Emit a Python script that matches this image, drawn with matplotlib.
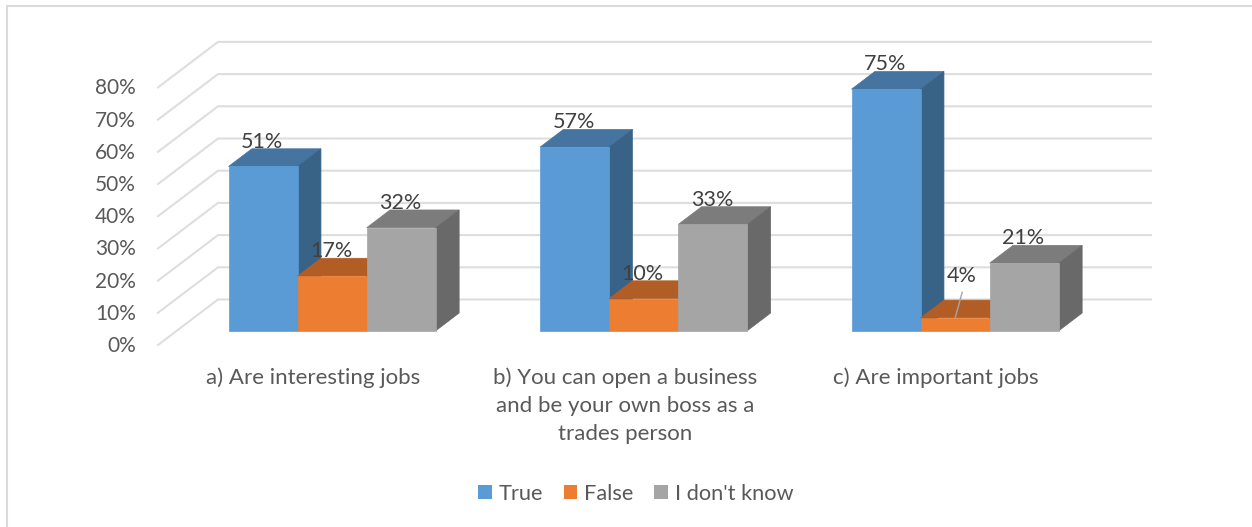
import matplotlib
matplotlib.use('Agg')
import matplotlib.pyplot as plt
from matplotlib.patches import Polygon, Patch

plt.rcParams['font.family'] = ['Lato', 'DejaVu Sans']

categorias = ['a) Are interesting jobs',
              'b) You can open a business\nand be your own boss as a\ntrades person',
              'c) Are important jobs']
series = ['True', 'False', "I don't know"]
valores_true = [51, 57, 75]
valores_false = [17, 10, 4]
valores_idk = [32, 33, 21]
ticks_y = [0, 10, 20, 30, 40, 50, 60, 70, 80]

# colores: frente, tapa, lateral
colores = {'True': ('#5B9BD5', '#4674A0', '#386386'),
           'False': ('#ED7D31', '#B25D25', '#8E4A1E'),
           "I don't know": ('#A5A5A5', '#7C7C7C', '#696969')}

W, H = 1252, 527
PX_X = 311.5       # pixeles entre grupos
PX_Y = 3.22        # pixeles por punto porcentual
X0, Y0 = 332.2, 330.7  # centro del primer grupo y base de las barras

ancho = 69.1 / PX_X
prof_x, prof_y = 23.3 / PX_X, 17.7 / PX_Y

# pared del fondo y esquina delantera de la grilla
pared_x0, pared_x1 = (218 - X0) / PX_X, (1151 - X0) / PX_X
pared_y = (Y0 - 299.5) / PX_Y
frente_x, frente_y = (158 - X0) / PX_X, (Y0 - 345) / PX_Y

fig = plt.figure(figsize=(W / 100, H / 100), dpi=100)
ax = fig.add_axes([0, 0, 1, 1])
ax.set_xlim(-X0 / PX_X, (W - X0) / PX_X)
ax.set_ylim((Y0 - H) / PX_Y, Y0 / PX_Y)
ax.axis('off')

# marco del grafico
ax.plot([7 / W, 7 / W, 1], [0, 1 - 5.7 / H, 1 - 5.7 / H], transform=ax.transAxes,
        color='#DADADA', lw=1.5, solid_joinstyle='miter')

# grilla en perspectiva
for t in ticks_y:
    ax.plot([frente_x, pared_x0, pared_x1], [frente_y + t, pared_y + t, pared_y + t],
            color='#DEDEDE', lw=1.5, zorder=1, solid_joinstyle='miter')
    ax.text(frente_x - 22 / PX_X, frente_y + t - 1 / PX_Y, f'{t}%', ha='right', va='center',
            fontsize=15, color='#595959')


def barra(x, v, nombre, z):
    frente, tapa, lateral = colores[nombre]
    izq, der = x - ancho / 2, x + ancho / 2
    ax.add_patch(Polygon([(izq, v), (der, v), (der + prof_x, v + prof_y), (izq + prof_x, v + prof_y)],
                         fc=tapa, ec=tapa, lw=0.5, zorder=z))
    ax.add_patch(Polygon([(der, 0), (der + prof_x, prof_y), (der + prof_x, v + prof_y), (der, v)],
                         fc=lateral, ec=lateral, lw=0.5, zorder=z))
    ax.bar(x, v, width=ancho, color=frente, edgecolor=frente, lw=0.5, zorder=z + 0.5)


grupos = [valores_true, valores_false, valores_idk]
for i in range(len(categorias)):
    for j, nombre in enumerate(series):
        x = i + (j - 1) * ancho
        v = grupos[j][i]
        barra(x, v, nombre, 2 + i * 3 + j)
        # la etiqueta de 4% va separada de la barra con una linea guia
        if v == 4:
            ax.plot([x, x + 7 / PX_X], [v, v + 25.5 / PX_Y], color='#A6A6A6', lw=1, zorder=30)
            ax.text(x + 6 / PX_X, v + 42.3 / PX_Y, f'{v}%', ha='center', va='center',
                    fontsize=15.5, color='#404040', zorder=31)
        else:
            ax.text(x - 1 / PX_X, v + 24.7 / PX_Y, f'{v}%', ha='center', va='center',
                    fontsize=15.5, color='#404040', zorder=31)
    ax.text(i - 19 / PX_X, (Y0 - 367) / PX_Y, categorias[i], ha='center', va='top',
            fontsize=16, color='#595959', linespacing=1.52)

handles = [Patch(color=colores[s][0], label=s, lw=0) for s in series]
ax.legend(handles=handles, loc='center', bbox_to_anchor=(635.5 / W, 1 - 493.5 / H), ncol=3,
          frameon=False, fontsize=15.7, labelcolor='#595959', handlelength=0.64,
          handleheight=0.64, handletextpad=0.3, columnspacing=0.95)

fig.savefig('out.png', dpi=100)
